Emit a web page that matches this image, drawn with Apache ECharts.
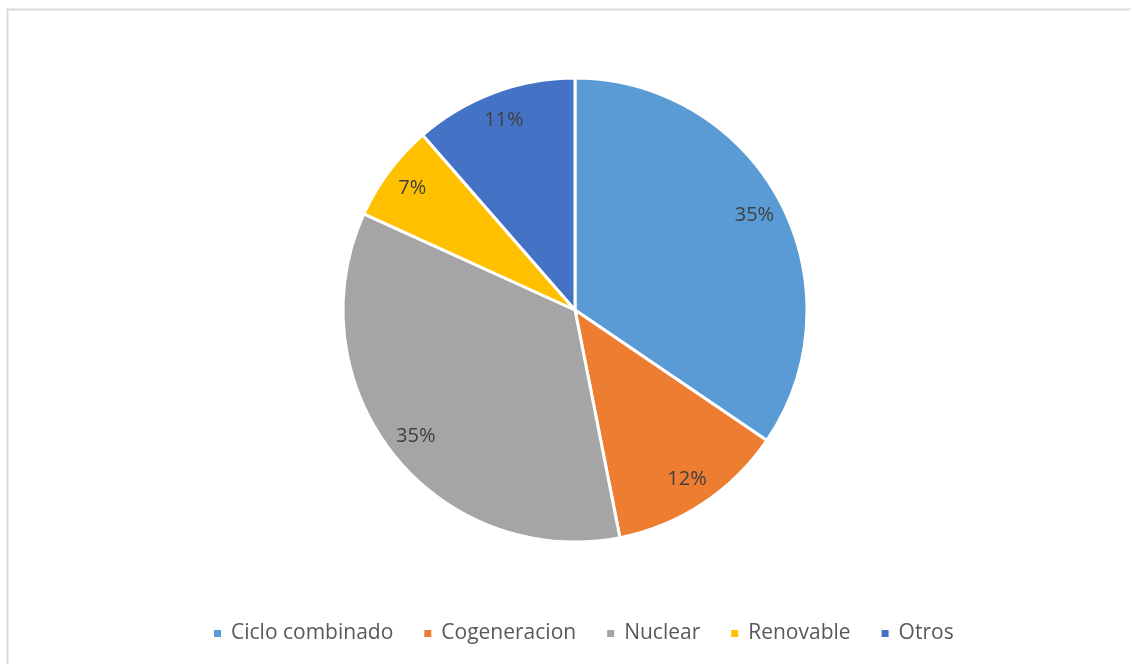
<!DOCTYPE html>
<html>
<head>
<meta charset="utf-8">
<script src="https://cdn.jsdelivr.net/npm/echarts@6/dist/echarts.min.js"></script>
<style>
html,body{margin:0;padding:0;background:#fff;}
#chart{width:1130px;height:664px;}
</style>
</head>
<body>
<div id="chart"></div>
<script>
const categories = ['Ciclo combinado', 'Cogeneracion', 'Nuclear', 'Renovable', 'Otros'];
const values = [34.5, 12.4, 34.9, 6.8, 11.4];
const colors = ['#5B9BD5', '#ED7D31', '#A5A5A5', '#FFC000', '#4472C4'];

const data = categories.map((c, i) => ({ name: c, value: values[i] }));

const chart = echarts.init(document.getElementById('chart'));
chart.setOption({
  animation: false,
  color: colors,
  graphic: [{
    type: 'rect',
    shape: { x: 7.5, y: 9.5, width: 1200, height: 700 },
    style: { fill: 'none', stroke: '#d9d9d9', lineWidth: 2 },
    silent: true
  }],
  legend: {
    bottom: 15,
    left: 207,
    icon: 'rect',
    itemWidth: 9,
    itemHeight: 9,
    itemGap: 29,
    textStyle: { fontFamily: 'Open Sans', fontSize: 21, color: '#595959', padding: [0, 0, 0, 4] },
    data: categories
  },
  series: [{
    type: 'pie',
    center: [575, 310],
    radius: [0, 232],
    startAngle: 90,
    clockwise: true,
    data: data,
    label: { show: false },
    labelLine: { show: false },
    itemStyle: { borderColor: '#fff', borderWidth: 3 },
    emphasis: { disabled: true }
  }, {
    type: 'pie',
    center: [575, 310],
    radius: [168, 232],
    startAngle: 90,
    clockwise: true,
    silent: true,
    data: data,
    itemStyle: { color: 'rgba(0,0,0,0)', borderWidth: 0 },
    label: {
      show: true,
      position: 'inside',
      formatter: p => Math.round(p.percent) + '%',
      fontFamily: 'Open Sans',
      fontSize: 20,
      color: '#404040'
    },
    labelLine: { show: false },
    emphasis: { disabled: true }
  }]
});
</script>
</body>
</html>
